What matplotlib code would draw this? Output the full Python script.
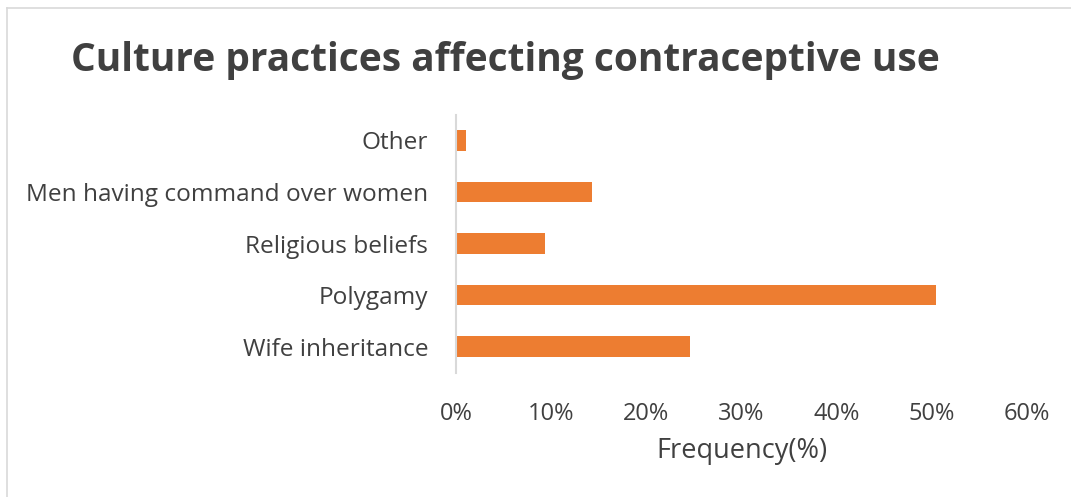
import matplotlib
matplotlib.use("Agg")
import matplotlib.pyplot as plt
from matplotlib.ticker import PercentFormatter
from matplotlib.lines import Line2D

plt.rcParams['font.family'] = ['Open Sans', 'DejaVu Sans']

categories = ["Wife inheritance", "Polygamy", "Religious beliefs",
              "Men having command over women", "Other"]
frequency = [24.6, 50.4, 9.4, 14.3, 1.1]
x_ticks = [0, 10, 20, 30, 40, 50, 60]

bar_color = "#ED7D31"
text_color = "#404040"

fig = plt.figure(figsize=(10.71, 4.97), dpi=100)
ax = fig.add_axes([0.4258, 0.2503, 0.5331, 0.5193])

ax.barh(categories, frequency, height=0.4, color=bar_color, zorder=2)
ax.set_xlim(0, 60)
ax.set_ylim(-0.5, len(categories) - 0.5)
ax.set_xticks(x_ticks)
ax.xaxis.set_major_formatter(PercentFormatter(decimals=0))

for side in ("top", "right", "bottom"):
    ax.spines[side].set_visible(False)
ax.spines["left"].set_color("#D9D9D9")
ax.spines["left"].set_linewidth(1.5)

ax.tick_params(axis="x", length=0, labelsize=17, colors=text_color, pad=21)
ax.tick_params(axis="y", length=0, labelsize=17.6, colors=text_color, pad=20)

ax.set_xlabel("Frequency(%)", fontsize=19.5, color=text_color, labelpad=8)

fig.text(0.472, 0.878, "Culture practices affecting contraceptive use",
         ha="center", va="center", fontsize=28, fontweight="bold",
         color=text_color)

# chart frame (top and left edges)
fig.add_artist(Line2D([0.0065, 1.0], [0.984, 0.984], color="#D9D9D9",
                      lw=1.2, transform=fig.transFigure))
fig.add_artist(Line2D([0.0065, 0.0065], [0.0, 0.984], color="#D9D9D9",
                      lw=1.2, transform=fig.transFigure))

fig.savefig("out.png", dpi=100)
